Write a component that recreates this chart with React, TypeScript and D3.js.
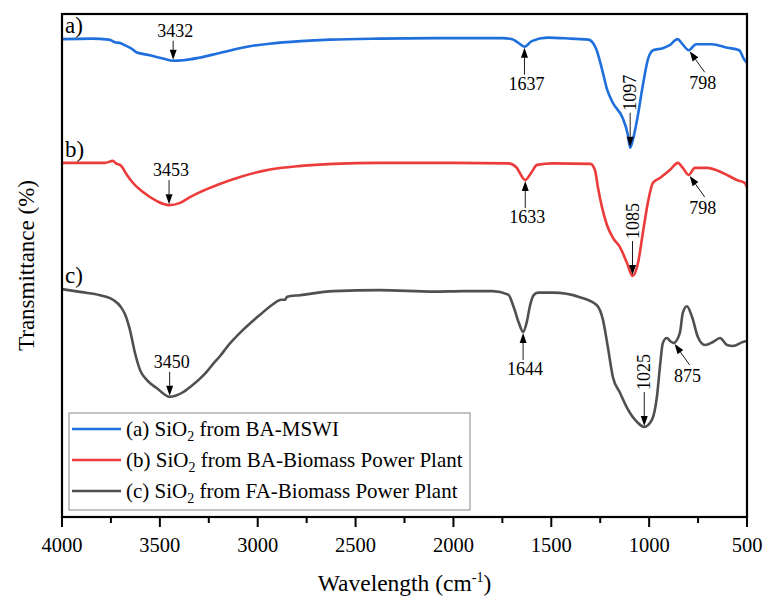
import * as d3 from "d3";

// FTIR spectra, wavenumber (cm-1) vs transmittance (arbitrary, stacked)
const seriesA: [number, number][] = [
  [4000, 95.0], [3850, 95.1], [3760, 94.9], [3730, 94.4], [3700, 94.2], [3680, 93.8],
  [3640, 93.0], [3620, 92.4], [3550, 91.8], [3480, 91.1], [3432, 90.7], [3380, 90.8],
  [3300, 91.3], [3200, 92.2], [3040, 93.6], [2940, 94.1], [2780, 94.6], [2630, 94.9],
  [2380, 95.1], [2000, 95.2], [1750, 95.2], [1700, 95.0], [1670, 94.3], [1637, 93.5],
  [1600, 94.6], [1520, 95.3], [1400, 95.1], [1310, 94.9], [1270, 93.0], [1240, 88.9],
  [1215, 85.0], [1185, 82.3], [1135, 79.3], [1110, 76.2], [1097, 73.4], [1080, 75.5],
  [1062, 78.9], [1032, 85.9], [1007, 90.9], [980, 92.8], [930, 93.2], [895, 93.8],
  [855, 95.0], [830, 94.0], [798, 92.8], [760, 94.0], [680, 94.0], [600, 93.3],
  [540, 92.8], [515, 91.0], [500, 90.3],
];

const seriesB: [number, number][] = [
  [4000, 70.4], [3780, 70.4], [3740, 70.8], [3725, 70.3], [3700, 69.9], [3668, 68.0],
  [3637, 66.4], [3586, 64.6], [3515, 62.8], [3453, 62.0], [3400, 62.4], [3346, 63.6],
  [3295, 64.6], [3208, 66.0], [3090, 67.6], [2950, 69.0], [2780, 69.8], [2615, 70.2],
  [2375, 70.4], [2000, 70.4], [1720, 70.3], [1680, 69.6], [1633, 67.0], [1600, 68.6],
  [1573, 70.0], [1490, 70.3], [1300, 70.2], [1277, 69.0], [1262, 65.6], [1241, 61.6],
  [1216, 58.1], [1185, 55.5], [1150, 53.7], [1113, 50.5], [1085, 47.9], [1057, 50.5],
  [1032, 56.5], [1007, 62.4], [981, 66.4], [945, 67.4], [894, 69.0], [853, 70.4],
  [828, 69.4], [798, 68.0], [766, 69.4], [705, 69.4], [623, 68.4], [552, 67.0],
  [511, 66.4], [500, 65.5],
];

const seriesC: [number, number][] = [
  [4000, 45.3], [3900, 44.7], [3806, 44.1], [3740, 43.2], [3700, 41.8], [3678, 40.3],
  [3653, 37.2], [3627, 32.6], [3601, 29.2], [3566, 27.2], [3515, 25.6], [3450, 23.9],
  [3420, 24.1], [3382, 24.8], [3340, 26.0], [3295, 27.5], [3260, 28.9], [3229, 30.4],
  [3190, 32.1], [3157, 33.8], [3075, 37.2], [2988, 40.2], [2922, 42.3], [2880, 43.2],
  [2860, 43.2], [2850, 43.8], [2784, 44.1], [2615, 44.9], [2375, 45.1], [2100, 44.8],
  [1950, 44.9], [1800, 44.9], [1720, 44.2], [1690, 41.5], [1665, 38.5], [1644, 36.8],
  [1625, 38.8], [1610, 41.8], [1590, 44.1], [1568, 44.6], [1491, 44.6], [1354, 43.7],
  [1267, 42.1], [1236, 39.2], [1211, 33.8], [1185, 27.8], [1149, 24.7], [1113, 21.7],
  [1062, 18.9], [1025, 17.9], [986, 19.3], [960, 24.0], [945, 29.8], [930, 34.6],
  [910, 35.6], [890, 34.9], [875, 34.6], [843, 36.6], [828, 40.6], [807, 41.9],
  [781, 39.8], [751, 35.8], [715, 34.2], [674, 34.8], [638, 35.6], [602, 34.2],
  [572, 34.0], [521, 34.8], [500, 35.0],
];

const majorTicks = [4000, 3500, 3000, 2500, 2000, 1500, 1000, 500];
const minorTicks = [3750, 3250, 2750, 2250, 1750, 1250, 750];

const seriesTags = ["a)", "b)", "c)"];
const legendPrefix = ["(a) SiO", "(b) SiO", "(c) SiO"];
const legendSuffix = [" from BA-MSWI", " from BA-Biomass Power Plant", " from FA-Biomass Power Plant"];

// peak markers: series index, wavenumber, how the label sits
const peaks = [
  { s: 0, wn: 3432, kind: "above" },
  { s: 0, wn: 1637, kind: "below" },
  { s: 0, wn: 1097, kind: "rot" },
  { s: 0, wn: 798, kind: "diag" },
  { s: 1, wn: 3453, kind: "above" },
  { s: 1, wn: 1633, kind: "below" },
  { s: 1, wn: 1085, kind: "rot" },
  { s: 1, wn: 798, kind: "diag" },
  { s: 2, wn: 3450, kind: "above" },
  { s: 2, wn: 1644, kind: "below" },
  { s: 2, wn: 1025, kind: "rot" },
  { s: 2, wn: 875, kind: "diag" },
];

const allSeries = [seriesA, seriesB, seriesC];
const colors = ["#1f6fdc", "#ec3b3b", "#505050"];
const FONT = "Liberation Serif, DejaVu Serif, Times New Roman, serif";

function valueAt(data: [number, number][], wn: number) {
  const hit = data.find((d) => d[0] === wn);
  if (hit) return hit[1];
  for (let i = 0; i < data.length - 1; i++) {
    const [x0, y0] = data[i];
    const [x1, y1] = data[i + 1];
    if (wn <= x0 && wn >= x1) return y0 + ((wn - x0) / (x1 - x0)) * (y1 - y0);
  }
  return data[data.length - 1][1];
}

function Arrow({ x1, y1, x2, y2 }: { x1: number; y1: number; x2: number; y2: number }) {
  // (x1,y1) tail, (x2,y2) tip
  const dx = x2 - x1;
  const dy = y2 - y1;
  const len = Math.hypot(dx, dy);
  const ux = dx / len;
  const uy = dy / len;
  const hl = 10;
  const hw = 3.5;
  const bx = x2 - ux * hl;
  const by = y2 - uy * hl;
  const pts = [
    [x2, y2],
    [bx - uy * hw, by + ux * hw],
    [bx + uy * hw, by - ux * hw],
  ];
  return (
    <g>
      <line x1={x1} y1={y1} x2={bx} y2={by} stroke="#000" strokeWidth={0.9} />
      <path d={"M" + pts.map((p) => p.join(",")).join("L") + "Z"} fill="#000" />
    </g>
  );
}

export default function App() {
  const left = 62, right = 747, top = 14, bottom = 517;
  const x = d3.scaleLinear().domain([4000, 500]).range([left, right]);
  const y = d3.scaleLinear().domain([0, 100]).range([bottom, top]);
  const line = d3
    .line<[number, number]>()
    .x((d) => x(d[0]))
    .y((d) => y(d[1]))
    .curve(d3.curveMonotoneX);

  const tagY = [allSeries[0][0][1], allSeries[1][0][1], allSeries[2][0][1]];
  const txt = { fontFamily: FONT };
  const pf = 18;

  return (
    <svg
      width={764}
      height={597}
      style={{ position: "absolute", left: 0, top: 0, background: "#fff", fontFamily: FONT }}
    >
      {allSeries.map((s, i) => (
        <path key={i} d={line(s) || ""} fill="none" stroke={colors[i]} strokeWidth={2.6} strokeLinejoin="round" />
      ))}

      {seriesTags.map((t, i) => (
        <text key={t} style={txt} x={left + 3} y={y(tagY[i]) - 6} fontSize={23} fill="#000">
          {t}
        </text>
      ))}

      {peaks.map((p, i) => {
        const tx = x(p.wn);
        const ty = y(valueAt(allSeries[p.s], p.wn));
        const label = String(p.wn);
        if (p.kind === "above") {
          const len = p.s === 0 ? 19 : 24;
          return (
            <g key={i}>
              <Arrow x1={tx} y1={ty - 1 - len} x2={tx} y2={ty - 1} />
              <text style={txt} x={tx + 2} y={ty - len - 5} fontSize={pf} textAnchor="middle">{label}</text>
            </g>
          );
        }
        if (p.kind === "below") {
          return (
            <g key={i}>
              <Arrow x1={tx} y1={ty + 28} x2={tx} y2={ty + 1} />
              <text style={txt} x={tx + 2} y={ty + 43} fontSize={pf} textAnchor="middle">{label}</text>
            </g>
          );
        }
        if (p.kind === "rot") {
          return (
            <g key={i}>
              <Arrow x1={tx} y1={ty - 35} x2={tx} y2={ty - 1} />
              <text style={txt} transform={`translate(${tx + 6},${ty - 37}) rotate(-90)`} fontSize={pf}>{label}</text>
            </g>
          );
        }
        return (
          <g key={i}>
            <Arrow x1={tx + 16} y1={ty + 22} x2={tx + 1} y2={ty + 1} />
            <text style={txt} x={tx + 14} y={ty + 39} fontSize={pf} textAnchor="middle">{label}</text>
          </g>
        );
      })}

      {/* legend */}
      <rect x={69} y={413} width={401} height={97} fill="#fff" stroke="#888" strokeWidth={1} />
      {legendPrefix.map((lp, i) => {
        const ly = 429 + i * 31;
        return (
          <g key={lp}>
            <line x1={72} x2={121} y1={ly} y2={ly} stroke={colors[i]} strokeWidth={2.6} />
            <text style={txt} x={126} y={ly + 7} fontSize={21}>
              <tspan>{lp}</tspan>
              <tspan dy={5} fontSize={14}>2</tspan>
              <tspan dy={-5}>{legendSuffix[i]}</tspan>
            </text>
          </g>
        );
      })}

      {/* frame and ticks */}
      <rect x={left} y={top} width={right - left} height={bottom - top} fill="none" stroke="#000" strokeWidth={2.2} />
      {majorTicks.map((t) => (
        <g key={t}>
          <line x1={x(t)} x2={x(t)} y1={bottom} y2={bottom + 10} stroke="#000" strokeWidth={2} />
          <text style={txt} x={x(t)} y={552} fontSize={20.5} textAnchor="middle">{t}</text>
        </g>
      ))}
      {minorTicks.map((t) => (
        <line key={t} x1={x(t)} x2={x(t)} y1={bottom} y2={bottom + 6} stroke="#000" strokeWidth={2} />
      ))}

      <text style={txt} x={(left + right) / 2} y={591} fontSize={23.5} textAnchor="middle">
        <tspan>Wavelength (cm</tspan>
        <tspan dy={-9} fontSize={14}>-1</tspan>
        <tspan dy={9}>)</tspan>
      </text>
      <text style={txt} transform={`translate(34,${(top + bottom) / 2}) rotate(-90)`} fontSize={23} textAnchor="middle">
        Transmittance (%)
      </text>
    </svg>
  );
}
